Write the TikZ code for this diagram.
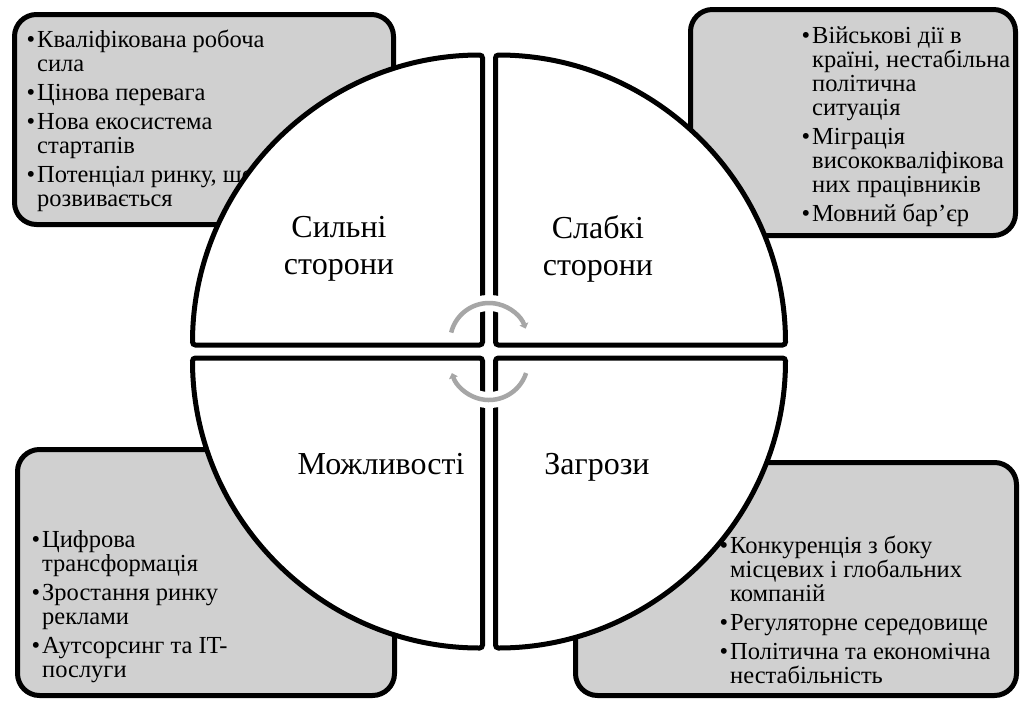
\documentclass[tikz,border=0pt]{standalone}
\usepackage{fontspec}
\setmainfont{Liberation Serif}
\newfontfamily\bodyfont{Liberation Serif}
\usetikzlibrary{arrows.meta}
\definecolor{boxgray}{HTML}{D0D0D0}
\definecolor{arrgray}{HTML}{A6A6A6}
\newcommand{\bul}{\leavevmode\llap{\textbullet\hspace{2pt}}}
\newcommand{\itemlist}[1]{\parbox[t]{420pt}{\bodyfont\fontsize{24.5}{24}\selectfont\raggedright\parskip=5pt\relax #1}}
\begin{document}
\begin{tikzpicture}[x=1pt,y=-1pt,
  infobox/.style={draw=black, line width=5pt, fill=boxgray, rounded corners=22pt},
  quad/.style={draw=black, line width=5pt, fill=white, rounded corners=3pt},
  itemtext/.style={anchor=base west, inner sep=0pt, font=\bodyfont\fontsize{24.5}{24}\selectfont},
  quadlabel/.style={font=\bodyfont\fontsize{32}{37}\selectfont, align=center, inner sep=0pt},
  cyc/.style={draw=arrgray, line width=4.5pt},
  halo/.style={draw=white, line width=16pt}
]
\useasboundingbox (0,0) rectangle (1021,702);
% side boxes
\draw[infobox] (14.5,14.5) rectangle (393.5,224.5);
\draw[infobox] (690.5,9.5) rectangle (1015.5,235.5);
\draw[infobox] (17.5,449.5) rectangle (394.5,695.5);
\draw[infobox] (575.5,462.5) rectangle (1016.5,695.5);
% box texts
\node[itemtext] (tstr) at (37,47) {\itemlist{%
\bul Кваліфікована робоча\\сила\par
\bul Цінова перевага\par
\bul Нова екосистема\\стартапів\par
\bul Потенціал ринку, що\\розвивається}};
\node[itemtext] (twk) at (812,43) {\itemlist{%
\bul Військові дії в\\країні, нестабільна\\політична\\ситуація\par
\bul Міграція\\висококваліфікова\\них працівників\par
\bul Мовний бар’єр}};
\node[itemtext] (topp) at (42,547) {\itemlist{%
\bul Цифрова\\трансформація\par
\bul Зростання ринку\\реклами\par
\bul Аутсорсинг та IT-\\послуги}};
\node[itemtext] (tthr) at (730,553) {\itemlist{%
\bul Конкуренція з боку\\місцевих і глобальних\\компаній\par
\bul Регуляторне середовище\par
\bul Політична та економічна\\нестабільність}};
% quadrants
\draw[quad] (482.5,345) -- ++(-290,0) arc[start angle=180,end angle=270,radius=290] -- cycle;
\draw[quad] (495.5,345) -- ++(0,-290) arc[start angle=270,end angle=360,radius=290] -- cycle;
\draw[quad] (495.5,358) -- ++(290,0) arc[start angle=0,end angle=90,radius=290] -- cycle;
\draw[quad] (482.5,358) -- ++(0,290) arc[start angle=90,end angle=180,radius=290] -- cycle;
% labels
\node[quadlabel] (s) at (339,249) {Сильні\\сторони};
\node[quadlabel] (w) at (598,249) {Слабкі\\сторони};
\node[quadlabel, anchor=base] (o) at (381,474) {Можливості};
\node[quadlabel, anchor=base] (t) at (597,474) {Загрози};
% cycle arrows
\draw[halo] (489,342) ++(194:39) arc[start angle=194,end angle=338,radius=39];
\draw[halo] (489,361) ++(18:39) arc[start angle=18,end angle=160,radius=39];
\draw[cyc, -{Triangle[length=5pt,width=9pt]}] (489,342) ++(194:39) arc[start angle=194,end angle=340,radius=39];
\draw[cyc, -{Triangle[length=5pt,width=9pt]}] (489,361) ++(18:39) arc[start angle=18,end angle=162,radius=39];
\end{tikzpicture}
\end{document}
